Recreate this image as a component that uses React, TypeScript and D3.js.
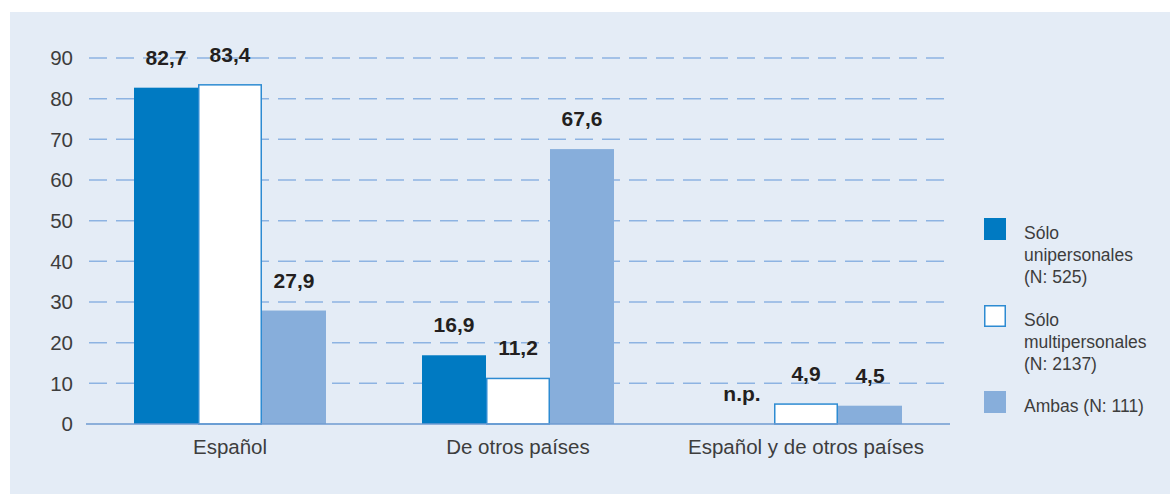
import { useEffect, useRef } from "react";
import * as d3 from "d3";

// categorías del eje x
const categories = ["Español", "De otros países", "Español y de otros países"];

// series (null = n.p.)
const seriesKeys = ["uni", "multi", "ambas"];
const uniValues: (number | null)[] = [82.7, 16.9, null];
const multiValues: (number | null)[] = [83.4, 11.2, 4.9];
const ambasValues: (number | null)[] = [27.9, 67.6, 4.5];

const yTicks = [0, 10, 20, 30, 40, 50, 60, 70, 80, 90];

const legendLabels = [
  ["Sólo", "unipersonales", "(N: 525)"],
  ["Sólo", "multipersonales", "(N: 2137)"],
  ["Ambas (N: 111)"],
];

const fmt = (v: number) => v.toFixed(1).replace(".", ",");

function App() {
  const ref = useRef<SVGSVGElement>(null);

  useEffect(() => {
    if (!ref.current) return;
    const svg = d3.select(ref.current);
    svg.selectAll("*").remove();

    const font = "'Liberation Sans', Arial, Helvetica, sans-serif";
    const textColor = "#3d3d3d";

    // fondo
    svg
      .append("rect")
      .attr("x", 10)
      .attr("y", 12)
      .attr("width", 1160)
      .attr("height", 482)
      .style("fill", "#e4ecf6");

    const x0 = d3
      .scaleBand()
      .domain(categories)
      .range([86, 950])
      .paddingInner(1 / 3)
      .paddingOuter(1 / 6);

    const x1 = d3
      .scaleBand()
      .domain(seriesKeys)
      .range([0, x0.bandwidth()]);

    const y = d3.scaleLinear().domain([0, 90]).range([424, 58]);

    // líneas de cuadrícula
    svg
      .selectAll(".grid")
      .data(yTicks.filter((d) => d > 0))
      .enter()
      .append("line")
      .attr("x1", 89)
      .attr("x2", 950)
      .attr("y1", (d) => y(d))
      .attr("y2", (d) => y(d))
      .style("stroke", "#8db3e2")
      .style("stroke-width", 1.5)
      .style("stroke-dasharray", "18,9");

    // etiquetas eje y
    svg
      .selectAll(".ytick")
      .data(yTicks)
      .enter()
      .append("text")
      .attr("x", 73)
      .attr("y", (d) => y(d))
      .attr("dy", "0.36em")
      .attr("text-anchor", "end")
      .style("font-family", font)
      .style("font-size", "20.5px")
      .style("fill", textColor)
      .text((d) => d);

    const data = categories.map((c, i) => ({
      cat: c,
      values: [
        { key: "uni", v: uniValues[i] },
        { key: "multi", v: multiValues[i] },
        { key: "ambas", v: ambasValues[i] },
      ],
    }));

    const fills: Record<string, string> = {
      uni: "#007ac2",
      multi: "#ffffff",
      ambas: "#87aedb",
    };

    const groups = svg
      .selectAll(".grp")
      .data(data)
      .enter()
      .append("g")
      .attr("transform", (d) => `translate(${x0(d.cat)},0)`);

    groups
      .selectAll("rect")
      .data((d) => d.values.filter((e) => e.v !== null))
      .enter()
      .append("rect")
      .attr("x", (d) => x1(d.key)! + (d.key === "multi" ? 0.75 : 0))
      .attr("width", (d) => x1.bandwidth() - (d.key === "multi" ? 1.5 : 0))
      .attr("y", (d) => y(d.v as number))
      .attr("height", (d) => y(0) - y(d.v as number))
      .style("fill", (d) => fills[d.key])
      .style("stroke", (d) => (d.key === "multi" ? "#2d8bd2" : "none"))
      .style("stroke-width", 1.5);

    // eje base
    svg
      .append("line")
      .attr("x1", 86)
      .attr("x2", 950)
      .attr("y1", y(0))
      .attr("y2", y(0))
      .style("stroke", "#6f9bd1")
      .style("stroke-width", 1.5);

    // etiquetas de valor
    groups
      .selectAll(".val")
      .data((d) => d.values)
      .enter()
      .append("text")
      .attr("x", (d) => x1(d.key)! + x1.bandwidth() / 2)
      .attr("y", (d) => y(d.v ?? 0) - 23)
      .attr("text-anchor", "middle")
      .style("font-family", font)
      .style("font-size", "21px")
      .style("font-weight", "bold")
      .style("fill", "#231f20")
      .text((d) => (d.v === null ? "n.p." : fmt(d.v)));

    // etiquetas de categoría
    svg
      .selectAll(".cat")
      .data(categories)
      .enter()
      .append("text")
      .attr("x", (d) => x0(d)! + x0.bandwidth() / 2)
      .attr("y", 454)
      .attr("text-anchor", "middle")
      .style("font-family", font)
      .style("font-size", "20.5px")
      .style("fill", textColor)
      .text((d) => d);

    // leyenda
    const legendY = [218, 305, 391];
    const legend = svg
      .selectAll(".leg")
      .data(seriesKeys)
      .enter()
      .append("g")
      .attr("transform", (_d, i) => `translate(984,${legendY[i]})`);

    legend
      .append("rect")
      .attr("x", (d) => (d === "multi" ? 0.75 : 0))
      .attr("y", (d) => (d === "multi" ? 0.75 : 0))
      .attr("width", (d) => (d === "multi" ? 20.5 : 22))
      .attr("height", (d) => (d === "multi" ? 20.5 : 22))
      .style("fill", (d) => fills[d])
      .style("stroke", (d) => (d === "multi" ? "#2d8bd2" : "none"))
      .style("stroke-width", 1.5);

    legend.each(function (_d, i) {
      const lines = legendLabels[i];
      d3.select(this)
        .selectAll("text")
        .data(lines)
        .enter()
        .append("text")
        .attr("x", 40)
        .attr("y", (_l, j) => 21 + j * 22)
        .style("font-family", font)
        .style("font-size", "17.5px")
        .style("fill", textColor)
        .text((l) => l);
    });
  }, []);

  return (
    <div>
      <style>{"body{margin:0}"}</style>
      <svg ref={ref} width={1170} height={494} style={{ display: "block" }} />
    </div>
  );
}

export default App;
